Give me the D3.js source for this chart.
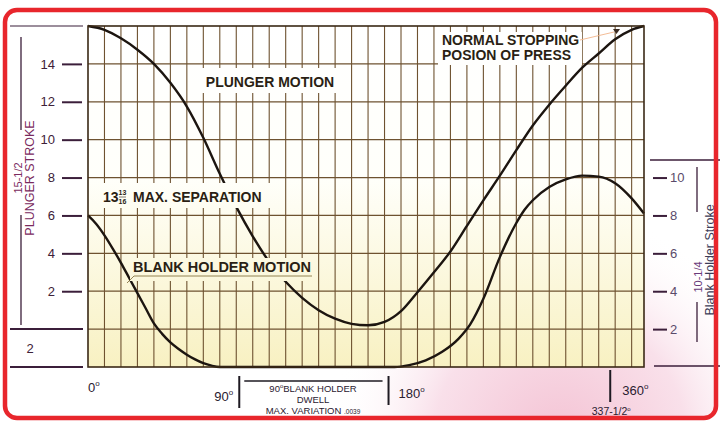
<!DOCTYPE html>
<html><head><meta charset="utf-8">
<script src="https://cdn.jsdelivr.net/npm/d3@7"></script>
<style>body{margin:0;background:#fff}svg{display:block}</style>
</head><body><svg id="c" width="720" height="422"></svg>
<script>
// ---- data ----
const plungerDeg    = [0, 10, 20, 30, 40, 50, 60, 70, 80, 90, 100, 110, 120, 130, 140, 150, 160, 170, 180, 190, 200, 210, 220, 230, 240, 250, 260, 270, 280, 290, 300, 310, 320, 330, 337.5];
const plungerStroke = [16, 15.8, 15.35, 14.75, 14.0, 13.0, 11.75, 10.1, 8.2, 6.45, 4.9, 3.55, 2.5, 1.65, 1.0, 0.55, 0.28, 0.2, 0.38, 0.95, 1.95, 3.0, 4.1, 5.45, 6.8, 8.1, 9.45, 10.75, 11.85, 12.85, 13.8, 14.55, 15.3, 15.8, 16];
const holderDeg     = [0, 5, 10, 15, 20, 25, 30, 35, 40, 45, 50, 55, 60, 65, 70, 75, 80, 186, 195, 205, 215, 225, 232, 240, 250, 260, 265, 270, 280, 290, 300, 310, 320, 330, 337.5];
const holderStroke  = [8, 7.55, 6.95, 6.25, 5.5, 4.7, 3.9, 3.1, 2.3, 1.75, 1.3, 0.95, 0.65, 0.4, 0.2, 0.07, 0, 0, 0.1, 0.35, 0.8, 1.5, 2.25, 3.6, 5.8, 7.6, 8.3, 8.8, 9.5, 9.9, 10.1, 10.05, 9.7, 8.9, 8.1];
const leftTicks  = [2, 4, 6, 8, 10, 12, 14];
const rightTicks = [2, 4, 6, 8, 10];
const markDeg    = [90, 180, 317];
const degLabels  = ["0", "90", "180", "360"];

// ---- scales ----
const x  = d3.scaleLinear().domain([0, 337.5]).range([88, 644]);
const yL = d3.scaleLinear().domain([-2, 16]).range([367, 26]);   // plunger stroke
const yR = d3.scaleLinear().domain([0, 18]).range([367, 26]);    // blank holder stroke

const svg = d3.select('#c');
const defs = svg.append('defs');
const lg = defs.append('linearGradient').attr('id','bg').attr('gradientUnits','userSpaceOnUse')
  .attr('x1',0).attr('y1',26).attr('x2',0).attr('y2',367);
lg.append('stop').attr('offset',0).attr('stop-color','#ffffff');
lg.append('stop').attr('offset',0.45).attr('stop-color','#fffffa');
lg.append('stop').attr('offset',1).attr('stop-color','#f8f1c2');
const rg = defs.append('radialGradient').attr('id','pink').attr('gradientUnits','userSpaceOnUse')
  .attr('cx',560).attr('cy',440).attr('r',230);
rg.append('stop').attr('offset',0).attr('stop-color','#f4c3d4');
rg.append('stop').attr('offset',0.55).attr('stop-color','#f9e0ea');
rg.append('stop').attr('offset',1).attr('stop-color','#ffffff').attr('stop-opacity',0);

svg.append('rect').attr('width',720).attr('height',422).attr('fill','#fff');
svg.append('rect').attr('x',5).attr('y',10).attr('width',711).attr('height',408).attr('rx',12).attr('fill','url(#pink)');

// chart background
svg.append('rect').attr('x',x(0)).attr('y',yL(16)).attr('width',x(337.5)-x(0)).attr('height',yL(-2)-yL(16)).attr('fill','url(#bg)');

const gridCol = '#6e5230';
const g = svg.append('g');
g.selectAll('line.v').data(d3.range(10, 337.5, 10)).join('line')
  .attr('x1',d=>x(d)).attr('x2',d=>x(d)).attr('y1',yL(16)).attr('y2',yL(-2))
  .attr('stroke',gridCol).attr('stroke-width',1.1);
g.selectAll('line.h').data(d3.range(0, 16, 2)).join('line')
  .attr('x1',x(0)).attr('x2',x(337.5)).attr('y1',d=>yL(d)).attr('y2',d=>yL(d))
  .attr('stroke',gridCol).attr('stroke-width',1.2);

// curves
const line = d3.line().curve(d3.curveMonotoneX);
svg.append('path').attr('d', line(plungerDeg.map((d,i)=>[x(d), yL(plungerStroke[i])])))
  .attr('fill','none').attr('stroke','#1c1510').attr('stroke-width',2.4);
svg.append('path').attr('d', line(holderDeg.map((d,i)=>[x(d), yR(holderStroke[i])])))
  .attr('fill','none').attr('stroke','#1c1510').attr('stroke-width',2.4);

// text boxes
const boxes = [[198,68,145,25],[100,183,170,25],[130,258,184,23],[438,32,144,33]];
svg.selectAll('rect.box').data(boxes).join('rect')
  .attr('x',d=>d[0]).attr('y',d=>d[1]).attr('width',d=>d[2]).attr('height',d=>d[3]).attr('fill','url(#bg)');

// frame
svg.append('rect').attr('x',x(0)).attr('y',yL(16)).attr('width',x(337.5)-x(0)).attr('height',yL(-2)-yL(16))
  .attr('fill','none').attr('stroke','#3a2816').attr('stroke-width',1.6);

const tc = '#2a1f14';
const bold = {"font-family":"'Liberation Sans', Arial, sans-serif","font-weight":"bold","font-size":"14px","fill":tc};
function T(txt, px, py, attrs, anchor){
  const t = svg.append('text').attr('x',px).attr('y',py).text(txt).attr('text-anchor',anchor||'start');
  Object.entries(attrs).forEach(([k,v])=>t.attr(k,v));
  return t;
}
T('PLUNGER MOTION', 270, 87, bold, 'middle');
T('NORMAL STOPPING', 442, 45, bold);
T('POSION OF PRESS', 442, 59.5, bold);
T('13', 103, 202, bold);
T('13', 122.5, 195, Object.assign({}, bold, {"font-size":"7px"}), 'middle');
T('16', 122.5, 203.5, Object.assign({}, bold, {"font-size":"7px"}), 'middle');
svg.append('line').attr('x1',119).attr('x2',126).attr('y1',197).attr('y2',197).attr('stroke',tc).attr('stroke-width',0.6);
T('MAX. SEPARATION', 133, 202, bold);
T('BLANK HOLDER MOTION', 133, 272, Object.assign({}, bold, {"font-size":"14.5px"}));
svg.append('path').attr('d','M312,276 L134,276 L127,283').attr('fill','none').attr('stroke','#7a6430').attr('stroke-width',0.8);
// leader to normal stopping position
svg.append('line').attr('x1',580).attr('y1',40).attr('x2',614).attr('y2',32).attr('stroke','#f2b48a').attr('stroke-width',0.9);
svg.append('path').attr('d','M613,29 L620,29 L616.5,34 Z').attr('fill','#3a2a20');

// left axis
const axCol = '#3b1e3a';
const la = svg.append('g').attr('transform','translate(82,0)')
  .call(d3.axisLeft(yL).tickValues(leftTicks).tickSize(20).tickPadding(7));
la.select('.domain').remove();
la.selectAll('line').attr('stroke',axCol).attr('stroke-width',2);
la.selectAll('text').attr('fill','#3d2138').attr('font-family',"'Liberation Sans', Arial, sans-serif").attr('font-size','13px');
[[26,1.2],[yL(0),2],[yL(-2),2]].forEach(([yy,w])=>svg.append('line').attr('x1',10).attr('x2',83).attr('y1',yy).attr('y2',yy).attr('stroke',axCol).attr('stroke-width',w));
T('2', 30, 353, {"font-family":"'Liberation Sans', Arial, sans-serif","font-size":"13px","fill":"#3d2138"}, 'middle');
svg.append('line').attr('x1',21).attr('x2',21).attr('y1',37).attr('y2',130).attr('stroke',axCol).attr('stroke-width',1.3);
svg.append('line').attr('x1',21).attr('x2',21).attr('y1',215).attr('y2',325).attr('stroke',axCol).attr('stroke-width',1.3);
T('15-1/2', 0, 0, {"font-family":"'Liberation Sans', Arial, sans-serif","font-size":"11px","fill":"#7a2a5e","transform":"translate(22,178) rotate(-90)"}, 'middle');
T('PLUNGER STROKE', 0, 0, {"font-family":"'Liberation Sans', Arial, sans-serif","font-size":"12.5px","fill":"#7a2a5e","transform":"translate(34,178) rotate(-90)"}, 'middle');

// right axis
const ra = svg.append('g').attr('transform','translate(653,0)')
  .call(d3.axisRight(yR).tickValues(rightTicks).tickSize(14).tickPadding(3));
ra.select('.domain').remove();
ra.selectAll('line').attr('stroke',axCol).attr('stroke-width',2);
ra.selectAll('text').attr('fill','#5a4a6a').attr('font-family',"'Liberation Sans', Arial, sans-serif").attr('font-size','13px');
svg.append('line').attr('x1',650).attr('x2',720).attr('y1',160).attr('y2',160).attr('stroke',axCol).attr('stroke-width',1.3);
svg.append('line').attr('x1',654).attr('x2',720).attr('y1',yR(0)-1).attr('y2',yR(0)-1).attr('stroke',axCol).attr('stroke-width',1.6);
svg.append('line').attr('x1',697).attr('x2',697).attr('y1',167).attr('y2',212).attr('stroke',axCol).attr('stroke-width',1.3);
svg.append('line').attr('x1',697).attr('x2',697).attr('y1',302).attr('y2',342).attr('stroke',axCol).attr('stroke-width',1.3);
T('10-1/4', 0, 0, {"font-family":"'Liberation Sans', Arial, sans-serif","font-size":"11px","fill":"#6a3a7a","transform":"translate(702,277) rotate(-90)"}, 'middle');
T('Blank Holder Stroke', 0, 0, {"font-family":"'Liberation Sans', Arial, sans-serif","font-size":"12.5px","fill":"#3c3c58","transform":"translate(714,260) rotate(-90)"}, 'middle');

// bottom degree labels
const nf = {"font-family":"'Liberation Sans', Arial, sans-serif","font-size":"13px","fill":"#2a2030"};
function deg(txt, px, py, anchor){
  const t = T(txt, px, py, nf, anchor);
  t.append('tspan').attr('font-size','8px').attr('dy',-6).text('o');
  return t;
}
deg(degLabels[0], x(0), 392, 'start');
deg(degLabels[1], x(markDeg[0])-3, 401, 'end');
deg(degLabels[2], x(markDeg[1])+14, 398, 'start');
deg(degLabels[3], x(markDeg[2])+12, 395, 'start');
const bars = [[markDeg[0],3,376,408],[markDeg[1],4,376,405],[markDeg[2],0,370,402]];
bars.forEach(([d,o,a,b])=>svg.append('line').attr('x1',x(d)+o).attr('x2',x(d)+o).attr('y1',a).attr('y2',b).attr('stroke','#1e1a22').attr('stroke-width',2));
svg.append('line').attr('x1',x(markDeg[0])+8).attr('x2',x(markDeg[1])-2).attr('y1',381).attr('y2',381).attr('stroke','#1e1a22').attr('stroke-width',1.6);
const sf = {"font-family":"'Liberation Sans', Arial, sans-serif","font-size":"9.5px","fill":"#2a2030"};
const t1 = T('90', 313, 392, sf, 'middle'); t1.append('tspan').attr('font-size','6px').attr('dy',-4).text('o'); t1.append('tspan').attr('dy',4).text('BLANK HOLDER');
T('DWELL', 313, 403, sf, 'middle');
const t3 = T('MAX. VARIATION ', 313, 414, sf, 'middle'); t3.append('tspan').attr('font-size','6.5px').text('.0039');
const t4 = T('337-1/2', x(markDeg[2])+1, 415, Object.assign({}, sf, {"font-size":"10.5px"}), 'middle'); t4.append('tspan').attr('font-size','6px').attr('dy',-4).text('o');

// red border
svg.append('rect').attr('x',5).attr('y',10).attr('width',711).attr('height',408).attr('rx',12)
  .attr('fill','none').attr('stroke','#e8262c').attr('stroke-width',4.5);
</script></body></html>
